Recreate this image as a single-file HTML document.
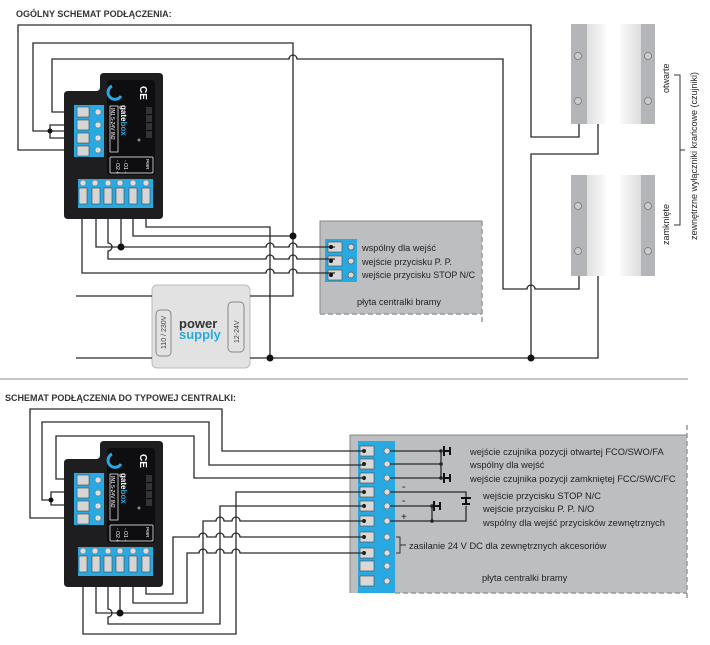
<!DOCTYPE html>
<html><head><meta charset="utf-8">
<style>
html,body{margin:0;padding:0;background:#fff;}
svg{display:block;font-family:"Liberation Sans",sans-serif;}
.w{fill:none;stroke:#2a2a2a;stroke-width:1.3;}
.t{font-size:9.3px;fill:#222;}
</style></head><body>
<svg width="710" height="645" viewBox="0 0 710 645" xmlns="http://www.w3.org/2000/svg">
<defs>
<linearGradient id="sg" x1="0" x2="1" y1="0" y2="0"><stop offset="0" stop-color="#fafafa"/><stop offset="1" stop-color="#c8c9cb"/></linearGradient>
<linearGradient id="sg2" x1="0" x2="1" y1="0" y2="0"><stop offset="0" stop-color="#c8c9cb"/><stop offset="1" stop-color="#fafafa"/></linearGradient>
</defs>
<text x="16" y="17" style="font-size:9px;font-weight:bold;fill:#333">OGÓLNY SCHEMAT PODŁĄCZENIA:</text>

<!-- top panel -->
<rect x="320" y="221" width="162" height="93" fill="#bdbec0"/>
<path d="M320,314 V221 H482" fill="none" stroke="#888" stroke-width="1"/>
<path d="M482,221 V322 M320,314 H482" fill="none" stroke="#999" stroke-width="1.5" stroke-dasharray="5,3"/>
<rect x="325" y="239" width="32" height="43" fill="#29a9e1"/>
<g fill="#d8d8d8" stroke="#555" stroke-width="0.7">
<rect x="328" y="242" width="14" height="10"/><rect x="328" y="256" width="14" height="10"/><rect x="328" y="270" width="14" height="10"/>
<circle cx="351" cy="247" r="3"/><circle cx="351" cy="261" r="3"/><circle cx="351" cy="275" r="3"/></g>
<text class="t" x="362" y="251" textLength="74" lengthAdjust="spacingAndGlyphs">wspólny dla wejść</text>
<text class="t" x="362" y="265" textLength="90" lengthAdjust="spacingAndGlyphs">wejście przycisku P. P.</text>
<text class="t" x="362" y="278" textLength="113" lengthAdjust="spacingAndGlyphs">wejście przycisku STOP N/C</text>
<text class="t" x="357" y="305" textLength="84" lengthAdjust="spacingAndGlyphs">płyta centralki bramy</text>

<!-- sensors -->
<g>
<rect x="571" y="24" width="35" height="100" fill="url(#sg2)"/><rect x="571" y="24" width="16" height="100" fill="#b4b5b8"/>
<rect x="620" y="24" width="35" height="100" fill="url(#sg)"/><rect x="641" y="24" width="14" height="100" fill="#b4b5b8"/>
<rect x="571" y="175" width="35" height="101" fill="url(#sg2)"/><rect x="571" y="175" width="16" height="101" fill="#b4b5b8"/>
<rect x="620" y="175" width="35" height="101" fill="url(#sg)"/><rect x="641" y="175" width="14" height="101" fill="#b4b5b8"/>
<g fill="#ccc" stroke="#777" stroke-width="0.8">
<circle cx="578" cy="56" r="3.5"/><circle cx="578" cy="101" r="3.5"/><circle cx="648" cy="56" r="3.5"/><circle cx="648" cy="101" r="3.5"/>
<circle cx="578" cy="206" r="3.5"/><circle cx="578" cy="251" r="3.5"/><circle cx="648" cy="206" r="3.5"/><circle cx="648" cy="251" r="3.5"/></g>
</g>
<text class="t" transform="translate(669,93) rotate(-90)" style="font-size:9px">otwarte</text>
<text class="t" transform="translate(669,245) rotate(-90)" style="font-size:9px">zamknięte</text>
<path d="M674,75 H680 V225 H674 M680,150 H685" fill="none" stroke="#333" stroke-width="1"/>
<text class="t" transform="translate(697,240) rotate(-90)" style="font-size:9px">zewnętrzne wyłączniki krańcowe (czujniki)</text>

<!-- power supply -->
<rect x="152" y="285" width="98" height="83" rx="5" fill="#e2e2e3" stroke="#bbb"/>
<rect x="156" y="310" width="15" height="46" rx="4" fill="none" stroke="#888"/>
<rect x="228" y="302" width="16" height="50" rx="4" fill="none" stroke="#888"/>
<text transform="translate(166,349) rotate(-90)" style="font-size:7px;fill:#444">110 / 230V</text>
<text transform="translate(239,343) rotate(-90)" style="font-size:7px;fill:#444">12-24V</text>
<text x="179" y="328" style="font-size:13px;font-weight:bold;fill:#333">power</text>
<text x="179" y="339" style="font-size:13px;font-weight:bold;fill:#29a9e1">supply</text>

<!-- top wires -->
<path class="w" d="M64,150 H18 V25 H531 V137 H579 V124"/>
<path class="w" d="M64,131 H33 V43 H293 V296 H250 M152,296 H76"/>
<path class="w" d="M64,112 H52 V59 H289 A4,4 0 0 1 297,59 H503 V289 H527 A4,4 0 0 1 535,289 H579 V276"/>
<path class="w" d="M598,124 V154 H531 V358 M76,358 H152 M250,358 H598 V276"/>
<path class="w" d="M74,125 H50 V138 H74"/>
<path class="w" d="M146,208 V227 H270 V358"/>
<path class="w" d="M133,208 V236 H293"/>
<path class="w" d="M96,208 V247 H266 A4,4 0 0 1 274,247 H289 A4,4 0 0 1 297,247 H335"/>
<path class="w" d="M121,208 V247"/>
<path class="w" d="M108,208 V243 A4,4 0 0 1 108,251 V259 H266 A4,4 0 0 1 274,259 H289 A4,4 0 0 1 297,259 H335"/>
<path class="w" d="M82,208 V273 H266 A4,4 0 0 1 274,273 H289 A4,4 0 0 1 297,273 H335"/>
<g fill="#111"><circle cx="50" cy="131" r="2.5"/><circle cx="293" cy="236" r="3.5"/><circle cx="121" cy="247" r="3.5"/><circle cx="531" cy="358" r="3.5"/><circle cx="270" cy="358" r="3.5"/>
<circle cx="331" cy="247" r="2"/><circle cx="331" cy="261" r="2"/><circle cx="331" cy="275" r="2"/></g>

<!-- top module -->
<g>
<path d="M64,95 Q64,91 68,91 H96 Q100,91 100,87 V77 Q100,73 104,73 H159 Q163,73 163,77 V215 Q163,219 159,219 H68 Q64,219 64,215 Z" fill="#1e1e20"/>
<rect x="107" y="80" width="48" height="95" rx="3" fill="#0e0e10"/>
<rect x="74" y="105" width="30" height="52" fill="#29a9e1"/>
<g fill="#d5d5d5" stroke="#444" stroke-width="0.6"><rect x="77" y="107" width="12" height="10"/><rect x="77" y="120" width="12" height="10"/><rect x="77" y="133" width="12" height="10"/><rect x="77" y="146" width="12" height="10"/></g>
<g fill="#ddd" stroke="#666" stroke-width="0.5"><circle cx="98" cy="112" r="3"/><circle cx="98" cy="125" r="3"/><circle cx="98" cy="138" r="3"/><circle cx="98" cy="150" r="3"/></g>
<rect x="78" y="179" width="75" height="29" fill="#29a9e1"/>
<g fill="#ddd" stroke="#666" stroke-width="0.5"><circle cx="83" cy="183" r="3"/><circle cx="95" cy="183" r="3"/><circle cx="108" cy="183" r="3"/><circle cx="120" cy="183" r="3"/><circle cx="133" cy="183" r="3"/><circle cx="146" cy="183" r="3"/></g>
<g fill="#d5d5d5" stroke="#444" stroke-width="0.6"><rect x="79" y="188" width="8" height="16"/><rect x="92" y="188" width="8" height="16"/><rect x="104" y="188" width="8" height="16"/><rect x="116" y="188" width="8" height="16"/><rect x="129" y="188" width="8" height="16"/><rect x="142" y="188" width="8" height="16"/></g>
<path d="M112,86 A7,7 0 1 0 121,96" fill="none" stroke="#29a9e1" stroke-width="3"/>
<text transform="translate(140,86) rotate(90)" style="font-size:10px;fill:#fff;font-weight:bold">CE</text>
<rect x="110" y="106" width="8" height="46" fill="none" stroke="#fff" stroke-width="0.7"/>
<text transform="translate(111,108) rotate(90)" style="font-size:5px;fill:#fff">IN1  5-24V  IN2</text>
<text transform="translate(121,105) rotate(90)" style="font-size:8px;fill:#fff;font-weight:bold">gate<tspan fill="#29a9e1">box</tspan></text>
<g fill="#333"><rect x="146" y="107" width="6" height="7"/><rect x="146" y="115" width="6" height="7"/><rect x="146" y="123" width="6" height="7"/><rect x="146" y="131" width="6" height="7"/></g>
<circle cx="139" cy="140" r="1.5" fill="#888"/>
<rect x="110" y="157" width="43" height="16" rx="1" fill="none" stroke="#fff" stroke-width="0.7"/>
<text transform="translate(146,159) rotate(90)" style="font-size:4.5px;fill:#fff">PWR</text>
<text transform="translate(124,160) rotate(90)" style="font-size:5px;fill:#fff">- O1 -</text>
<text transform="translate(116,160) rotate(90)" style="font-size:5px;fill:#fff">- O2 +</text>
</g>

<!-- separator -->
<line x1="0" y1="379" x2="688" y2="379" stroke="#c8c8c8" stroke-width="2"/>
<text x="5" y="401" style="font-size:9px;font-weight:bold;fill:#333">SCHEMAT PODŁĄCZENIA DO TYPOWEJ CENTRALKI:</text>

<!-- bottom panel -->
<rect x="350" y="435" width="337" height="158" fill="#bdbec0"/>
<path d="M350,593 V435 H687" fill="none" stroke="#888" stroke-width="1"/>
<path d="M687,425 V600 M395,593 H687" fill="none" stroke="#999" stroke-width="1.5" stroke-dasharray="5,3"/>
<rect x="358" y="441" width="37" height="152" fill="#29a9e1"/>
<g fill="#d8d8d8" stroke="#555" stroke-width="0.7">
<rect x="360" y="446" width="14" height="10"/><rect x="360" y="459" width="14" height="10"/><rect x="360" y="473" width="14" height="10"/><rect x="360" y="487" width="14" height="10"/><rect x="360" y="501" width="14" height="10"/><rect x="360" y="516" width="14" height="10"/><rect x="360" y="532" width="14" height="10"/><rect x="360" y="548" width="14" height="10"/><rect x="360" y="561" width="14" height="10"/><rect x="360" y="576" width="14" height="10"/></g>
<g fill="#ddd" stroke="#666" stroke-width="0.6">
<circle cx="387" cy="451" r="3"/><circle cx="387" cy="464" r="3"/><circle cx="387" cy="478" r="3"/><circle cx="387" cy="492" r="3"/><circle cx="387" cy="506" r="3"/><circle cx="387" cy="521" r="3"/><circle cx="387" cy="537" r="3"/><circle cx="387" cy="553" r="3"/><circle cx="387" cy="566" r="3"/><circle cx="387" cy="581" r="3"/></g>
<g fill="#222">
<circle cx="364" cy="451" r="2"/><circle cx="364" cy="464" r="2"/><circle cx="364" cy="478" r="2"/><circle cx="364" cy="492" r="2"/><circle cx="364" cy="506" r="2"/><circle cx="364" cy="521" r="2"/><circle cx="364" cy="537" r="2"/><circle cx="364" cy="553" r="2"/></g>
<!-- switches -->
<path class="w" d="M390,451 H441 M390,464 H441 M390,478 H441 M441,451 V478"/>
<path class="w" d="M390,492 H466 V498 M390,506 H432 M390,521 H466 V506 M432,506 V521"/>
<g fill="#222"><circle cx="441" cy="451" r="1.8"/><circle cx="441" cy="478" r="1.8"/><circle cx="441" cy="464" r="1.8"/><circle cx="432" cy="506" r="1.8"/><circle cx="432" cy="521" r="1.8"/></g>
<g stroke="#111" stroke-width="2" fill="none">
<path d="M444,446 V456 M444,451 H450 M450,447 V455"/>
<path d="M444,473 V483 M444,478 H450 M450,474 V482"/>
<path d="M434,501 V511 M434,506 H440 M440,502 V510"/>
<path d="M461,498 H471 M466,498 V504 M462,504 H470"/>
</g>
<text x="402" y="490" style="font-size:11px;fill:#222">-</text>
<text x="402" y="504" style="font-size:11px;fill:#222">-</text>
<text x="401" y="520" style="font-size:10px;fill:#222">+</text>
<text class="t" x="470" y="455">wejście czujnika pozycji otwartej  FCO/SWO/FA</text>
<text class="t" x="470" y="468">wspólny dla wejść</text>
<text class="t" x="470" y="482">wejście czujnika pozycji zamkniętej FCC/SWC/FC</text>
<text class="t" x="483" y="499">wejście przycisku STOP N/C</text>
<text class="t" x="483" y="512">wejście przycisku P. P. N/O</text>
<text class="t" x="483" y="526">wspólny dla wejść przycisków zewnętrznych</text>
<path d="M396,537 H400 V553 H396 M400,545 H406" fill="none" stroke="#333" stroke-width="1"/>
<text class="t" x="409" y="549">zasilanie 24 V DC dla zewnętrznych akcesoriów</text>
<text class="t" x="482" y="581">płyta centralki bramy</text>

<!-- bottom wires -->
<path class="w" d="M74,518 H30 V409 H222 V451 H364"/>
<path class="w" d="M74,492 H51 V505 H74 M51,500 H42 V422 H209 V465 H364"/>
<path class="w" d="M74,479 H56 V436 H194 V478 H364"/>
<path class="w" d="M364,492 H236 V634 H83 V587"/>
<path class="w" d="M364,506 H220 V624 H108 V617 A4,4 0 0 0 108,609 V587"/>
<path class="w" d="M364,521 H240 A4,4 0 0 0 232,521 H224 A4,4 0 0 0 216,521 H203 V613 H96 V587 M120,587 V613"/>
<path class="w" d="M364,537 H240 A4,4 0 0 0 232,537 H224 A4,4 0 0 0 216,537 H207 A4,4 0 0 0 199,537 H173 V594 H146 V587"/>
<path class="w" d="M364,553 H240 A4,4 0 0 0 232,553 H224 A4,4 0 0 0 216,553 H207 A4,4 0 0 0 199,553 H187 V603 H133 V587"/>
<g fill="#111"><circle cx="51" cy="500" r="2.5"/><circle cx="120" cy="613" r="3.5"/></g>

<!-- bottom module -->
<g transform="translate(0,368)">
<path d="M64,95 Q64,91 68,91 H96 Q100,91 100,87 V77 Q100,73 104,73 H159 Q163,73 163,77 V215 Q163,219 159,219 H68 Q64,219 64,215 Z" fill="#1e1e20"/>
<rect x="107" y="80" width="48" height="95" rx="3" fill="#0e0e10"/>
<rect x="74" y="105" width="30" height="52" fill="#29a9e1"/>
<g fill="#d5d5d5" stroke="#444" stroke-width="0.6"><rect x="77" y="107" width="12" height="10"/><rect x="77" y="120" width="12" height="10"/><rect x="77" y="133" width="12" height="10"/><rect x="77" y="146" width="12" height="10"/></g>
<g fill="#ddd" stroke="#666" stroke-width="0.5"><circle cx="98" cy="112" r="3"/><circle cx="98" cy="125" r="3"/><circle cx="98" cy="138" r="3"/><circle cx="98" cy="150" r="3"/></g>
<rect x="78" y="179" width="75" height="29" fill="#29a9e1"/>
<g fill="#ddd" stroke="#666" stroke-width="0.5"><circle cx="83" cy="183" r="3"/><circle cx="95" cy="183" r="3"/><circle cx="108" cy="183" r="3"/><circle cx="120" cy="183" r="3"/><circle cx="133" cy="183" r="3"/><circle cx="146" cy="183" r="3"/></g>
<g fill="#d5d5d5" stroke="#444" stroke-width="0.6"><rect x="79" y="188" width="8" height="16"/><rect x="92" y="188" width="8" height="16"/><rect x="104" y="188" width="8" height="16"/><rect x="116" y="188" width="8" height="16"/><rect x="129" y="188" width="8" height="16"/><rect x="142" y="188" width="8" height="16"/></g>
<path d="M112,86 A7,7 0 1 0 121,96" fill="none" stroke="#29a9e1" stroke-width="3"/>
<text transform="translate(140,86) rotate(90)" style="font-size:10px;fill:#fff;font-weight:bold">CE</text>
<rect x="110" y="106" width="8" height="46" fill="none" stroke="#fff" stroke-width="0.7"/>
<text transform="translate(111,108) rotate(90)" style="font-size:5px;fill:#fff">IN1  5-24V  IN2</text>
<text transform="translate(121,105) rotate(90)" style="font-size:8px;fill:#fff;font-weight:bold">gate<tspan fill="#29a9e1">box</tspan></text>
<g fill="#333"><rect x="146" y="107" width="6" height="7"/><rect x="146" y="115" width="6" height="7"/><rect x="146" y="123" width="6" height="7"/><rect x="146" y="131" width="6" height="7"/></g>
<circle cx="139" cy="140" r="1.5" fill="#888"/>
<rect x="110" y="157" width="43" height="16" rx="1" fill="none" stroke="#fff" stroke-width="0.7"/>
<text transform="translate(146,159) rotate(90)" style="font-size:4.5px;fill:#fff">PWR</text>
<text transform="translate(124,160) rotate(90)" style="font-size:5px;fill:#fff">- O1 -</text>
<text transform="translate(116,160) rotate(90)" style="font-size:5px;fill:#fff">- O2 +</text>
</g>
</svg>
</body></html>
